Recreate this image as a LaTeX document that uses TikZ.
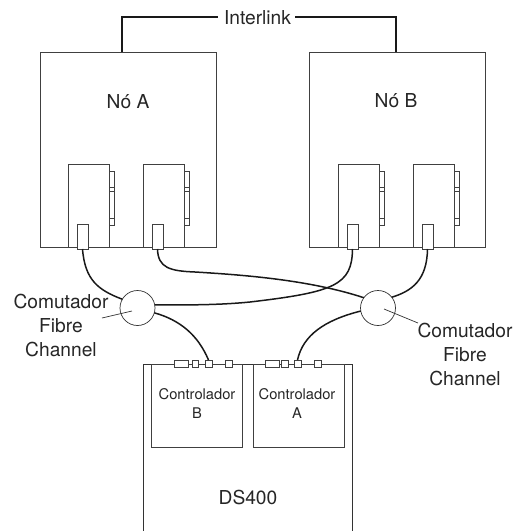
\documentclass[tikz,border=0pt]{standalone}
\usepackage{fontspec}
\setmainfont{TeX Gyre Heros}
\newcommand{\boxat}[6]{%
  \pgfmathsetmacro{\bxw}{#4-#2}\pgfmathsetmacro{\bxh}{#5-#3}%
  \pgfmathsetmacro{\bxc}{(#2+#4)/2}\pgfmathsetmacro{\byc}{(#3+#5)/2}%
  \node[#6,minimum width=\bxw pt,minimum height=\bxh pt] (#1) at (\bxc,\byc) {};}
\tikzset{
  outline/.style={draw=black!75,line width=0.9pt,fill=white,inner sep=0pt,outer sep=0pt},
  cable/.style={draw=black!90,line width=1.5pt},
  leader/.style={draw=black!80,line width=0.7pt},
  big/.style={font=\fontsize{19.2}{24}\selectfont,align=center,text=black!85,inner sep=0pt},
  small/.style={font=\fontsize{14.7}{19}\selectfont,align=center,text=black!85,inner sep=0pt},
  switch/.style={circle,draw=black!80,line width=0.7pt,fill=white,minimum size=35pt,inner sep=0pt,outer sep=0pt}
}
\begin{document}
\begin{tikzpicture}[x=1pt,y=-1pt]
\useasboundingbox (0,0) rectangle (515,531);
% DS400 enclosure (open at the bottom edge)
\draw[draw=black!80,line width=0.9pt] (143,531) -- (143,364) -- (352,364) -- (352,531);
% Nodes
\boxat{nodeA}{40}{52}{216}{247}{outline}
\boxat{nodeB}{309}{52}{485}{247}{outline}
% Side tabs
\foreach \x/\n in {109/a,184/b,379/c,454/d}{
  \pgfmathsetmacro{\xr}{\x+5.5}
  \boxat{tab\n}{\x}{171}{\xr}{225}{outline}
  \draw[draw=black!75,line width=0.8pt] (\x,187) -- (\xr,187) (\x,191) -- (\xr,191) (\x,218) -- (\xr,218);
}
% Cards
\boxat{cardA}{68}{164}{109}{247}{outline}
\boxat{cardB}{143}{164}{184}{247}{outline}
\boxat{cardC}{338}{164}{379}{247}{outline}
\boxat{cardD}{413}{164}{454}{247}{outline}
% Connectors on cards
\boxat{pa}{77}{224}{88}{249}{outline}
\boxat{pb}{152}{224}{163}{249}{outline}
\boxat{pc}{347}{224}{358}{249}{outline}
\boxat{pd}{422}{224}{433}{249}{outline}
% Controllers
\boxat{ctrlB}{151}{364}{242}{447}{outline}
\boxat{ctrlA}{253}{364}{344}{447}{outline}
\boxat{b1}{174}{360}{188}{367}{outline}
\boxat{b2}{192}{360}{198.5}{367}{outline}
\boxat{b3}{205}{360}{212}{367}{outline}
\boxat{b4}{225}{360}{232}{367}{outline}
\boxat{a1}{265}{360}{279}{367}{outline}
\boxat{a2}{281}{360}{288}{367}{outline}
\boxat{a3}{294}{360}{301}{367}{outline}
\boxat{a4}{314}{360}{321}{367}{outline}
% Switches
\node[switch] (sw1) at (137.5,308) {};
\node[switch] (sw2) at (378,308) {};
% Cables
\draw[cable] (pa.south) .. controls (85,280) and (98,290) .. (sw1.150);
\draw[cable] (pb.south) .. controls (158,268) and (170,271) .. (195,272)
  .. controls (245,275) and (310,280) .. (sw2.144);
\draw[cable] (pc.south) .. controls (352,285) and (335,292) .. (250,302)
  .. controls (220,305) and (190,305) .. (sw1.10);
\draw[cable] (pd.south) .. controls (427,280) and (412,291) .. (sw2.38);
\draw[cable] (sw1.-16) .. controls (180,320) and (198,335) .. (b3.north);
\draw[cable] (sw2.190) .. controls (325,320) and (303,335) .. (a3.north);
% Labels
\node[big] (ilink) at (257.5,18) {Interlink};
\coordinate (ca) at (122,52);
\coordinate (cb) at (396,52);
\draw[cable] ([xshift=-6pt,yshift=1pt]ilink.west) -- (122,17) -- (ca);
\draw[cable] ([xshift=4pt,yshift=1pt]ilink.east) -- (396,17) -- (cb);
\node[big] at (128,102) {Nó A};
\node[big] at (396,101) {Nó B};
\node[big] (lblL) at (61,325.5) {Comutador\\Fibre\\Channel};
\node[big] (lblR) at (465,354.5) {Comutador\\Fibre\\Channel};
\draw[leader] (102,318) -- (132,311);
\draw[leader] (384,309) -- (418,323);
\node[small] at (197,403.5) {Controlador\\B};
\node[small] at (297,403.5) {Controlador\\A};
\node[big] at (248,497) {DS400};
\end{tikzpicture}
\end{document}
